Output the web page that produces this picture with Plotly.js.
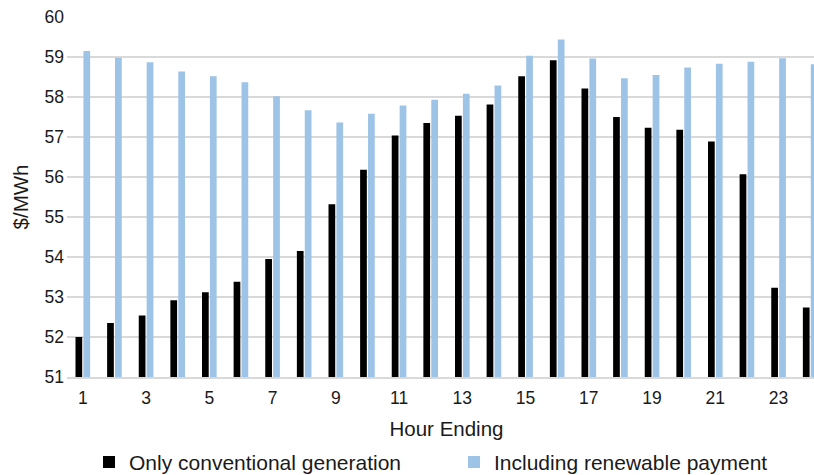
<!DOCTYPE html>
<html>
<head>
<meta charset="utf-8">
<script src="https://cdn.plot.ly/plotly-3.0.1.min.js"></script>
<style>
html, body { margin: 0; padding: 0; overflow: hidden; background: #fff; }
#chart { width: 830px; height: 500px; }
</style>
</head>
<body>
<div id="chart"></div>
<script>
const hours = [1,2,3,4,5,6,7,8,9,10,11,12,13,14,15,16,17,18,19,20,21,22,23,24];
const conventional = [52.00,52.35,52.54,52.92,53.12,53.38,53.95,54.15,55.32,56.18,57.04,57.35,57.53,57.81,58.52,58.92,58.21,57.50,57.23,57.18,56.89,56.07,53.23,52.74];
const withRenewable = [59.15,58.98,58.87,58.64,58.52,58.37,58.02,57.67,57.36,57.58,57.79,57.93,58.08,58.29,59.03,59.44,58.96,58.47,58.55,58.74,58.83,58.88,58.97,58.82];
const tickLabels = ['1','3','5','7','9','11','13','15','17','19','21','23'];
const tickValues = [1,3,5,7,9,11,13,15,17,19,21,23];
const seriesNames = ['Only conventional generation', 'Including renewable payment'];

const FONT = 'Liberation Sans, Arial, sans-serif';

const data = [
  { type: 'bar', x: hours, y: conventional, name: seriesNames[0],
    marker: { color: '#000000' } },
  { type: 'bar', x: hours, y: withRenewable, name: seriesNames[1],
    marker: { color: '#9dc3e6' } }
];

const layout = {
  width: 830, height: 500,
  margin: { l: 66.5, r: 4, t: 16.7, b: 122.5 },
  paper_bgcolor: '#fff', plot_bgcolor: '#fff',
  font: { family: FONT, color: '#1a1a1a', size: 17.5 },
  barmode: 'group', bargap: 0.5, bargroupgap: 0.15,
  xaxis: {
    range: [0.5, 24.5], tickvals: tickValues, ticktext: tickLabels,
    showgrid: false, zeroline: false, showline: true, linecolor: '#d9d9d9', linewidth: 1.5,
    ticks: '', tickfont: { size: 17.5 }, ticklabelstandoff: 4,
    title: { text: 'Hour Ending', font: { size: 20.5 }, standoff: 15 },
    automargin: false
  },
  yaxis: {
    range: [51, 60], dtick: 1, tick0: 51,
    showgrid: true, gridcolor: '#d9d9d9', gridwidth: 1.3, zeroline: false, showline: false,
    ticks: '', tickfont: { size: 17.5 }, ticklabelstandoff: 2,
    title: { text: '$/MWh', font: { size: 20.5 }, standoff: 10 },
    automargin: false
  },
  showlegend: true,
  legend: {
    orientation: 'h', x: 0.029, xanchor: 'left', y: -0.237, yanchor: 'middle',
    font: { size: 21 }, entrywidth: 320, entrywidthmode: 'pixels',
    bgcolor: 'rgba(0,0,0,0)'
  }
};

Plotly.newPlot('chart', data, layout, { displayModeBar: false, staticPlot: true });
</script>
</body>
</html>
